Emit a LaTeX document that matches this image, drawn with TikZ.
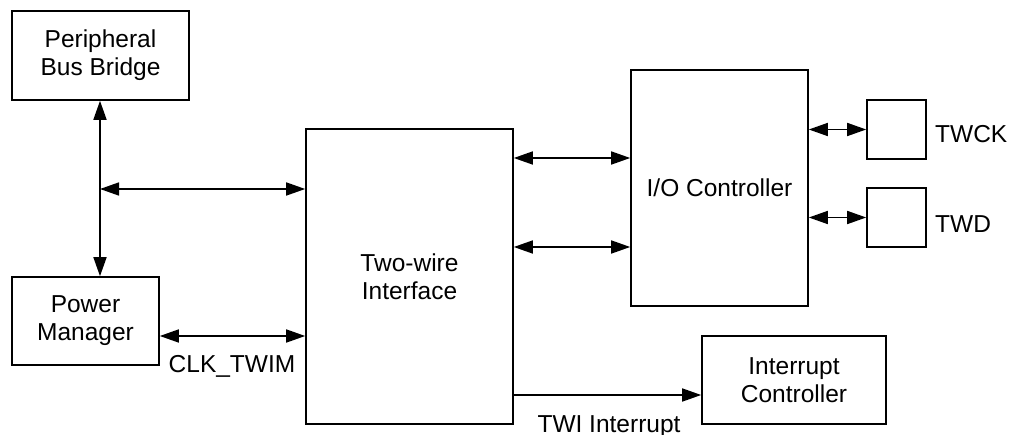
\documentclass[tikz,border=0pt]{standalone}
\usepackage{fontspec}
\setmainfont{Liberation Sans}
\usetikzlibrary{arrows.meta}
\begin{document}
\begin{tikzpicture}[x=1pt,y=-1pt,
  font=\fontsize{24.5}{28}\selectfont,
  blk/.style={draw,line width=1.6pt,inner sep=0pt,align=center},
  conn/.style={line width=1.6pt,{Triangle[length=19pt,width=13pt]}-{Triangle[length=19pt,width=13pt]}},
  oneway/.style={line width=1.6pt,-{Triangle[length=19pt,width=13pt]}},
  lbl/.style={inner sep=0pt}]
\useasboundingbox (0,0) rectangle (1017,435);
\node[blk,minimum width=177pt,minimum height=89pt] (pbb) at (100.5,55.5) {Peripheral\\Bus Bridge};
\node[blk,minimum width=147pt,minimum height=88pt] (pm) at (85.5,321) {Power\\Manager};
\node[blk,minimum width=207pt,minimum height=295pt] (twi) at (409.5,276.5) {Two-wire\\Interface};
\node[blk,minimum width=177pt,minimum height=236pt] (io) at (719.5,188) {I/O Controller};
\node[blk,minimum width=59pt,minimum height=59pt] (twck) at (896.5,129.5) {};
\node[blk,minimum width=59pt,minimum height=59pt] (twd) at (896.5,217.5) {};
\node[blk,minimum width=184pt,minimum height=88pt] (ic) at (794,380) {Interrupt\\Controller};
\node[lbl,anchor=base west] (twckl) at (935,143) {TWCK};
\node[lbl,anchor=base west] (twdl) at (935,233) {TWD};
\node[lbl,anchor=base] (clk) at (232,373) {CLK\_TWIM};
\node[lbl,anchor=base] (twiint) at (609,432) {TWI Interrupt};
% connectors
\coordinate (bus) at (100,189);
\draw[conn] (pbb.south -| bus) -- (pm.north -| bus);
\draw[conn] (bus) -- (bus -| twi.west);
\coordinate (pmc) at (0,336);
\draw[conn] (pmc -| pm.east) -- (pmc -| twi.west);
\coordinate (a1) at (0,158);
\coordinate (a2) at (0,247);
\draw[conn] (a1 -| twi.east) -- (a1 -| io.west);
\draw[conn] (a2 -| twi.east) -- (a2 -| io.west);
\draw[conn] (twck.west -| io.east) -- (twck.west);
\draw[conn] (twd.west -| io.east) -- (twd.west);
\coordinate (ii) at (0,395);
\draw[oneway] (ii -| twi.east) -- (ii -| ic.west);
\end{tikzpicture}
\end{document}
